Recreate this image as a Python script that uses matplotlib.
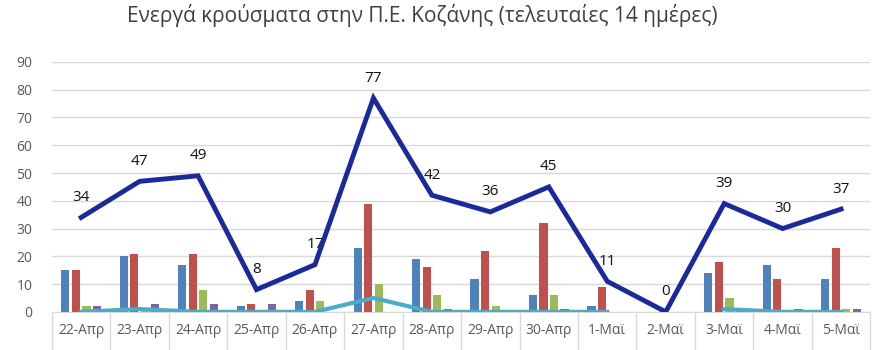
import matplotlib
matplotlib.use("Agg")
import matplotlib.pyplot as plt
import numpy as np

plt.rcParams['font.family'] = ['Open Sans', 'DejaVu Sans']

dates = ["22-Απρ", "23-Απρ", "24-Απρ", "25-Απρ", "26-Απρ", "27-Απρ", "28-Απρ",
         "29-Απρ", "30-Απρ", "1-Μαϊ", "2-Μαϊ", "3-Μαϊ", "4-Μαϊ", "5-Μαϊ"]
total = [34, 47, 49, 8, 17, 77, 42, 36, 45, 11, 0, 39, 30, 37]
blue_vals = [15, 20, 17, 2, 4, 23, 19, 12, 6, 2, 0, 14, 17, 12]
red_vals = [15, 21, 21, 3, 8, 39, 16, 22, 32, 9, 0, 18, 12, 23]
green_vals = [2, 1, 8, 0, 4, 10, 6, 2, 6, 0, 0, 5, 0, 1]
purple_vals = [2, 3, 3, 3, 0, 0, 1, 0, 1, 0, 0, 1, 1, 1]
cyan_vals = [0, 1, 0, 0, 0, 5, 0, 0, 0, 0, np.nan, 1, 0, 0]

fig = plt.figure(figsize=(8.8, 3.5), dpi=100)
ax = fig.add_axes([0.059, 0.109, 0.930, 0.714])

x = np.arange(len(dates))
bw = 0.14
step = 0.18
colors = ["#4F81BD", "#C0504D", "#9BBB59", "#8064A2"]
for i, (vals, c) in enumerate(zip([blue_vals, red_vals, green_vals, purple_vals], colors)):
    ax.bar(x + (i - 1.5) * step, vals, width=bw, color=c, zorder=2)

ax.plot(x, cyan_vals, color="#4BACC6", lw=3, zorder=3)
ax.plot(x, total, color="#1B2A9A", lw=3.5, zorder=4, solid_joinstyle='miter')

for xi, v in zip(x, total):
    ax.annotate(str(v), (xi, v), xytext=(0, 9), textcoords="offset points",
                ha="center", va="bottom", fontsize=11, color="#111111")

ax.set_xlim(-0.5, len(dates) - 0.5)
ax.set_ylim(0, 90)
ax.set_yticks(range(0, 91, 10))
ax.yaxis.grid(True, color="#D9D9D9", lw=1, zorder=0)
ax.set_axisbelow(True)
for s in ["top", "right", "left"]:
    ax.spines[s].set_visible(False)
ax.spines["bottom"].set_color("#D9D9D9")
ax.tick_params(axis="y", length=0, labelsize=10, colors="#595959", pad=14)
ax.set_xticks(x)
ax.set_xticklabels(dates)
ax.tick_params(axis="x", which="major", length=0, labelsize=10, colors="#595959", pad=8)
ax.set_xticks(np.arange(-0.5, len(dates), 1.0), minor=True)
ax.tick_params(axis="x", which="minor", length=33, color="#D9D9D9", width=1)

fig.text(0.48, 0.955, "Ενεργά κρούσματα στην Π.Ε. Κοζάνης (τελευταίες 14 ημέρες)",
         ha="center", va="center", fontsize=15, color="#404040")

fig.savefig("out.png", dpi=100, facecolor="white")
